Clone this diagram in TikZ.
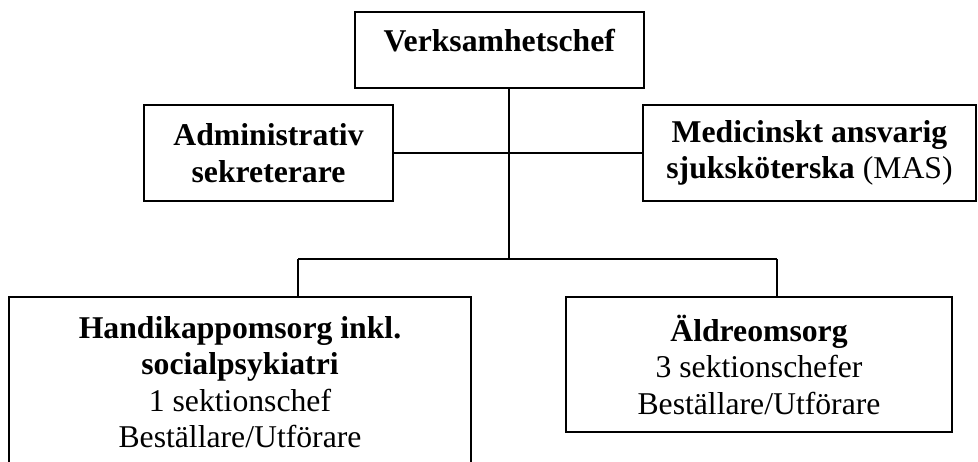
\documentclass[tikz,border=0pt]{standalone}
\usepackage{fontspec}
\setmainfont{Liberation Serif}
\begin{document}
\begin{tikzpicture}[x=1pt,y=-1pt,
  box/.style={draw, line width=1.5pt, inner sep=0pt, align=center,
    font=\fontsize{31.7}{36.5}\selectfont},
  link/.style={line width=1.5pt}]
\useasboundingbox (0,0) rectangle (978,462);
\clip (0,0) rectangle (978,462);
\node[box, minimum width=289pt, minimum height=76pt, text height=22pt, text depth=18pt] (top) at (499.5,50) {\textbf{Verksamhetschef}};
\node[box, minimum width=249pt, minimum height=96pt] (adm) at (268.5,153) {\textbf{Administrativ}\\\textbf{sekreterare}};
\node[box, minimum width=333pt, minimum height=96pt] (mas) at (809.5,153) {\textbf{Medicinskt ansvarig}\\\textbf{sjuksköterska} (MAS)};
\node[box, minimum width=462pt, minimum height=170pt] (hand) at (240,382) {\textbf{Handikappomsorg inkl.}\\\textbf{socialpsykiatri}\\1 sektionschef\\Beställare/Utförare};
\node[box, minimum width=386pt, minimum height=135pt] (aldre) at (759,364.5) {\textbf{Äldreomsorg}\\3 sektionschefer\\Beställare/Utförare};
\coordinate (j) at (509,259);
\coordinate (jl) at (298,259);
\coordinate (jr) at (777,259);
\draw[link] (top.south -| j) -- (j);
\draw[link] (adm.east) -- (mas.west);
\draw[link] (jl) -- (jr);
\draw[link] (jl) -- (hand.north -| jl);
\draw[link] (jr) -- (aldre.north -| jr);
\end{tikzpicture}
\end{document}
